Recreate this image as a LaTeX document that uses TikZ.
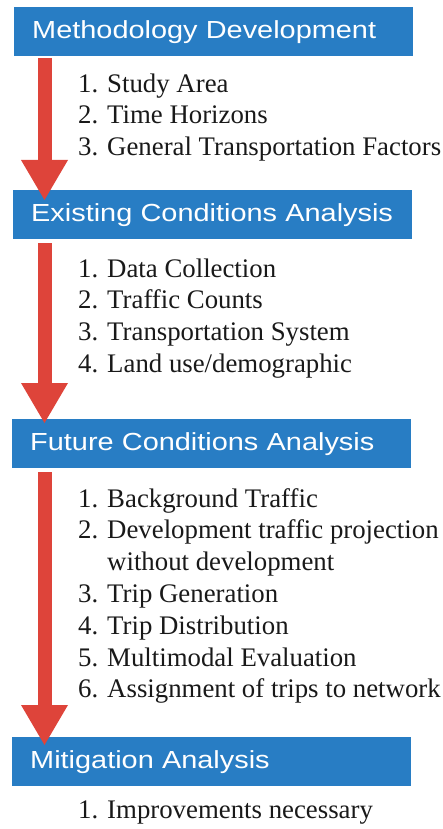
\documentclass[tikz,border=0pt]{standalone}
\usepackage{fontspec}
\setmainfont{Liberation Serif}
\newfontfamily\headfont[FakeStretch=1.17]{Liberation Sans}
\usetikzlibrary{arrows.meta}
\definecolor{stageblue}{RGB}{40,125,196}
\definecolor{flowred}{RGB}{222,68,58}
\tikzset{
  stagebox/.style={fill=stageblue, text=white, anchor=north west,
    font=\headfont\fontsize{24.7}{29}\selectfont,
    text width=363pt, align=left, inner xsep=18pt, inner ysep=0pt,
    text height=17pt, text depth=4pt, minimum height=49pt},
  % base of a multi-line node = baseline of its last line
  steplist/.style={font=\fontsize{26.8}{31.8}\selectfont, text=black!90,
    align=left, anchor=base west, inner sep=0pt},
  flowarrow/.style={flowred, line width=14pt,
    -{Triangle[width=47pt,length=40pt,line width=0pt]}}
}

\begin{document}
\begin{tikzpicture}[x=1pt,y=-1pt]
  \useasboundingbox (0,0) rectangle (442,829);

  % the four stages
  \node[stagebox] (meth) at (14,7) {Methodology Development};
  \node[steplist] (methsteps) at (78,155.6)
    {1. Study Area\\2. Time Horizons\\3. General Transportation Factors};

  \node[stagebox] (exist) at (13,190) {Existing Conditions Analysis};
  \node[steplist] (existsteps) at (78,372.4)
    {1. Data Collection\\2. Traffic Counts\\3. Transportation System\\4. Land use/demographic};

  \node[stagebox] (future) at (12,419) {Future Conditions Analysis};
  \node[steplist] (futuresteps) at (78,697.8)
    {1. Background Traffic\\2. Development traffic projection\\\phantom{2. }without development\\3. Trip Generation\\4. Trip Distribution\\5. Multimodal Evaluation\\6. Assignment of trips to network};

  \node[stagebox] (mitig) at (12,737) {Mitigation Analysis};
  \node[steplist] (mitigsteps) at (78,818) {1. Improvements necessary};

  % arrows between stages
  \draw[flowarrow] ([xshift=30.5pt,yshift=-2pt]meth.south west) -- ([xshift=31.5pt,yshift=-10pt]exist.north west);
  \draw[flowarrow] ([xshift=31.5pt,yshift=-4pt]exist.south west) -- ([xshift=32.5pt,yshift=-4pt]future.north west);
  \draw[flowarrow] ([xshift=32.5pt,yshift=-4pt]future.south west) -- ([xshift=32.5pt,yshift=-8pt]mitig.north west);
\end{tikzpicture}
\end{document}
